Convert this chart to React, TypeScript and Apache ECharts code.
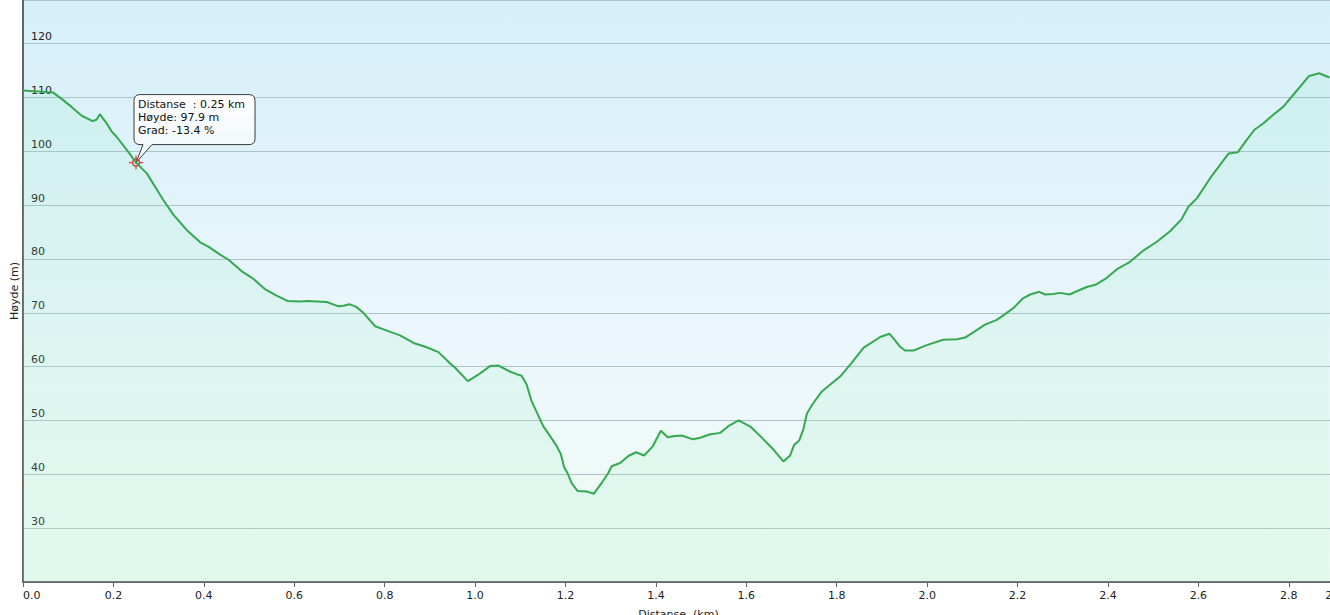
import React, { useEffect, useRef } from "react";
import * as echarts from "echarts";

// Distance along track (km)
const distanceKm = [
  0.0, 0.067, 0.089, 0.108, 0.13, 0.154, 0.163, 0.17, 0.185, 0.196, 0.207, 0.233, 0.25, 0.274, 0.31,
  0.333, 0.362, 0.392, 0.41, 0.436, 0.454, 0.484, 0.51, 0.535, 0.561, 0.585, 0.613, 0.628, 0.65, 0.672,
  0.698, 0.709, 0.722, 0.737, 0.753, 0.779, 0.805, 0.834, 0.864, 0.893, 0.919, 0.945, 0.956, 0.984,
  1.007, 1.033, 1.052, 1.077, 1.092, 1.103, 1.114, 1.125, 1.151, 1.166, 1.181, 1.19, 1.197, 1.204,
  1.214, 1.227, 1.247, 1.263, 1.28, 1.295, 1.302, 1.321, 1.339, 1.356, 1.374, 1.393, 1.411, 1.426,
  1.442, 1.457, 1.482, 1.498, 1.518, 1.542, 1.563, 1.583, 1.61, 1.631, 1.66, 1.682, 1.697, 1.706,
  1.717, 1.726, 1.734, 1.748, 1.767, 1.808, 1.833, 1.859, 1.896, 1.917, 1.925, 1.939, 1.951, 1.97,
  1.996, 2.035, 2.066, 2.084, 2.103, 2.128, 2.154, 2.173, 2.191, 2.212, 2.228, 2.248, 2.261, 2.279,
  2.294, 2.315, 2.331, 2.353, 2.372, 2.396, 2.42, 2.446, 2.479, 2.508, 2.538, 2.562, 2.578, 2.597,
  2.626, 2.667, 2.687, 2.704, 2.724, 2.744, 2.763, 2.788, 2.81, 2.845, 2.867, 2.89,
];

// Elevation (m)
const heightM = [
  111.3, 110.9, 109.5, 108.2, 106.6, 105.6, 105.9, 106.9, 105.2, 103.7, 102.7, 99.9, 97.9, 95.9, 91.0,
  88.2, 85.4, 83.1, 82.3, 80.8, 79.9, 77.7, 76.3, 74.4, 73.2, 72.2, 72.1, 72.2, 72.1, 72.0,
  71.2, 71.3, 71.6, 71.1, 70.0, 67.5, 66.7, 65.8, 64.4, 63.6, 62.7, 60.6, 59.8, 57.3,
  58.5, 60.1, 60.2, 59.1, 58.6, 58.3, 56.7, 53.6, 48.9, 47.1, 45.2, 43.7, 41.3, 40.3,
  38.3, 36.9, 36.8, 36.4, 38.4, 40.3, 41.5, 42.1, 43.4, 44.1, 43.5, 45.2, 48.1, 46.9,
  47.1, 47.2, 46.5, 46.8, 47.4, 47.7, 49.1, 50.0, 48.8, 47.1, 44.6, 42.4, 43.5, 45.5,
  46.3, 48.3, 51.3, 53.2, 55.4, 58.2, 60.7, 63.5, 65.5, 66.1, 65.3, 63.8, 63.0, 63.0,
  63.9, 65.0, 65.1, 65.4, 66.4, 67.8, 68.7, 69.8, 70.9, 72.7, 73.4, 73.9, 73.4, 73.5,
  73.7, 73.4, 74.0, 74.8, 75.2, 76.4, 78.1, 79.3, 81.6, 83.2, 85.2, 87.3, 89.7, 91.3,
  95.0, 99.6, 99.8, 101.8, 104.0, 105.2, 106.6, 108.3, 110.5, 114.0, 114.5, 113.7,
];

// Hover readout shown in the callout
const cursorDistanceKm = 0.25;
const cursorHeightM = 97.9;
const cursorGradePct = -13.4;

const xAxisTitle = "Distanse  (km)";
const yAxisTitle = "Høyde (m)";

const FONT = '"DejaVu Sans", Verdana, sans-serif';
const CHART_W = 1336;
const CHART_H = 628;

const CALLOUT_D =
  "M4,-68 L113,-68 Q119,-68 119,-62 L119,-24 Q119,-18 113,-18 L16,-18 L0,0 L7,-18 L4,-18 Q-2,-18 -2,-24 L-2,-62 Q-2,-68 4,-68 Z";
echarts.graphic.registerShape("callout", echarts.graphic.extendPath(CALLOUT_D, {}));

export default function App() {
  const ref = useRef<HTMLDivElement>(null);

  useEffect(() => {
    if (!ref.current) return;
    document.body.style.margin = "0";
    const chart = echarts.init(ref.current, undefined, { renderer: "svg", width: CHART_W, height: CHART_H });
    const data = distanceKm.map((d, i) => [d, heightM[i]]);

    chart.setOption({
      animation: false,
      grid: {
        left: 23,
        right: 2,
        top: 0,
        bottom: 46,
        containLabel: false,
        outerBoundsMode: "none",
        show: true,
        borderWidth: 0,
        backgroundColor: new echarts.graphic.LinearGradient(0, 0, 0, 1, [
          { offset: 0, color: "#d5eff9" },
          { offset: 0.6, color: "#ecf7fc" },
          { offset: 0.8, color: "#eef9f8" },
          { offset: 1, color: "#eefbf4" },
        ]),
      },
      xAxis: {
        type: "value",
        min: 0,
        max: 2.9,
        interval: 0.2,
        name: xAxisTitle,
        nameLocation: "middle",
        nameGap: 27,
        nameTextStyle: { color: "#222", fontFamily: FONT, fontSize: 11 },
        axisLine: { show: true, lineStyle: { color: "#666", width: 2 } },
        axisTick: { show: true, length: 5, lineStyle: { color: "#666", width: 1 } },
        axisLabel: {
          color: "#222",
          fontFamily: FONT,
          fontSize: 11,
          margin: 8,
          formatter: (v: number) => v.toFixed(1),
          alignMinLabel: "left",
          showMaxLabel: true,
        },
        splitLine: { show: false },
      },
      yAxis: {
        type: "value",
        min: 20,
        max: 128.1,
        interval: 10,
        name: yAxisTitle,
        nameLocation: "middle",
        nameGap: 3,
        nameRotate: 90,
        nameMoveOverlap: false,
        nameTextStyle: { color: "#222", fontFamily: FONT, fontSize: 11 },
        axisLine: { show: true, lineStyle: { color: "#666", width: 2 } },
        axisTick: { show: false },
        axisLabel: {
          inside: true,
          margin: 8,
          color: "#222",
          fontFamily: FONT,
          fontSize: 11,
          verticalAlign: "bottom",
          lineHeight: 14,
          showMinLabel: false,
          showMaxLabel: false,
          formatter: (v: number) => String(Math.round(v)),
        },
        splitLine: { show: true, lineStyle: { color: "#adc2c7", width: 1 } },
      },
      series: [
        {
          type: "line",
          data,
          showSymbol: false,
          symbol: "none",
          smooth: false,
          lineStyle: { color: "#36a852", width: 2 },
          areaStyle: {
            origin: "start",
            color: new echarts.graphic.LinearGradient(0, 0, 0, 1, [
              { offset: 0, color: "rgba(120,230,170,0.18)" },
              { offset: 1, color: "rgba(160,238,195,0.24)" },
            ]),
          },
        },
      ],
    });

    const [px, py] = chart.convertToPixel({ gridIndex: 0 }, [cursorDistanceKm, cursorHeightM]) as number[];
    const markerColor = "#e2302c";
    chart.setOption({
      graphic: [
        {
          type: "group",
          x: px,
          y: py,
          z: 100,
          children: [
            {
              type: "callout",
              x: 0,
              y: 0,
              style: {
                fill: new echarts.graphic.LinearGradient(0, 0, 0, 1, [
                  { offset: 0, color: "#ffffff" },
                  { offset: 1, color: "#edf6fa" },
                ]),
                stroke: "#3a3a3a",
                lineWidth: 1,
              },
            },
            {
              type: "text",
              x: 2,
              y: -65,
              style: {
                text: `Distanse  : ${cursorDistanceKm.toFixed(2)} km\nHøyde: ${cursorHeightM.toFixed(1)} m\nGrad: ${cursorGradePct.toFixed(1)} %`,
                font: `11px ${FONT}`,
                lineHeight: 13,
                fill: "#111",
              },
            },
            {
              type: "circle",
              shape: { cx: 0, cy: 0, r: 3.5 },
              style: { fill: "none", stroke: markerColor, lineWidth: 1.5 },
            },
            {
              type: "circle",
              shape: { cx: 0, cy: 0, r: 1.2 },
              style: { fill: markerColor },
            },
            { type: "line", shape: { x1: -7, y1: 0, x2: -3.5, y2: 0 }, style: { stroke: markerColor, lineWidth: 1.2 } },
            { type: "line", shape: { x1: 3.5, y1: 0, x2: 7, y2: 0 }, style: { stroke: markerColor, lineWidth: 1.2 } },
            { type: "line", shape: { x1: 0, y1: -7, x2: 0, y2: -3.5 }, style: { stroke: markerColor, lineWidth: 1.2 } },
            { type: "line", shape: { x1: 0, y1: 3.5, x2: 0, y2: 7 }, style: { stroke: markerColor, lineWidth: 1.2 } },
          ],
        },
      ],
    });

    return () => chart.dispose();
  }, []);

  return (
    <div style={{ position: "absolute", left: 0, top: 0, width: 1330, height: 615, overflow: "hidden", background: "#fff" }}>
      <div ref={ref} style={{ width: CHART_W, height: CHART_H, minWidth: CHART_W }} />
    </div>
  );
}
